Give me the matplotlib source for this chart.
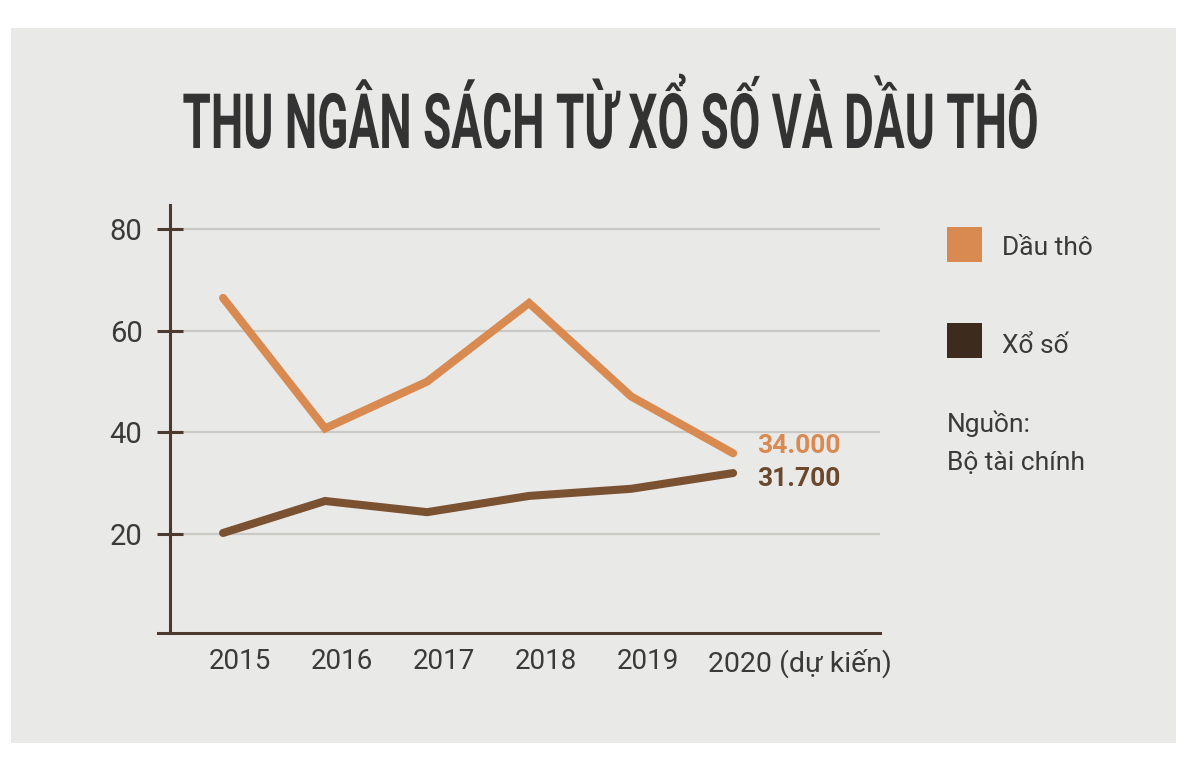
import matplotlib
matplotlib.use('Agg')
import matplotlib.pyplot as plt
from matplotlib import patheffects
from matplotlib.patches import Rectangle
from matplotlib.transforms import Affine2D, ScaledTranslation

# data (nghìn tỷ đồng)
years = ['2015', '2016', '2017', '2018', '2019', '2020 (dự kiến)']
dau_tho = [66.5, 40.8, 50.0, 65.5, 47.1, 35.9]
xo_so = [20.2, 26.5, 24.3, 27.5, 28.9, 32.0]
y_ticks = [20, 40, 60, 80]
end_labels = ['34.000', '31.700']
legend_names = ['Dầu thô', 'Xổ số']
source_lines = ['Nguồn:', 'Bộ tài chính']
title = 'THU NGÂN SÁCH TỪ XỔ SỐ VÀ DẦU THÔ'

ORANGE = '#d98a50'
BROWN = '#7a5232'
DARK = '#3d2b1e'
AXIS = '#4b3a2d'
TEXT = '#3a3a3a'
GRID = '#cbc9c3'
PANEL = '#e9e9e8'


class Stretch(patheffects.AbstractPathEffect):
    """Rescale glyphs around a fixed x (and around the baseline) for a condensed look."""

    def __init__(self, sx=1.0, sy=1.0, cx=0.0):
        super().__init__()
        self.sx = sx
        self.sy = sy
        self.cx = cx

    def draw_path(self, renderer, gc, tpath, affine, rgbFace=None):
        m = affine.get_matrix().copy()
        m[0, 0] *= self.sx
        m[0, 1] *= self.sx
        m[0, 2] = self.sx * (m[0, 2] - self.cx) + self.cx
        m[1, 0] *= self.sy
        m[1, 1] *= self.sy
        renderer.draw_path(gc, tpath, Affine2D(m), rgbFace)


plt.rcParams['font.family'] = ['Roboto', 'DejaVu Sans']

W, H = 1200, 762
fig = plt.figure(figsize=(12, 7.62), dpi=100, facecolor='white')

# grey card behind everything
fig.add_artist(Rectangle((11 / W, 1 - 743 / H), 1165 / W, 715 / H,
                         transform=fig.transFigure, facecolor=PANEL,
                         edgecolor='none', zorder=0))

ax = fig.add_axes([170 / W, 1 - 633 / H, 710 / W, 428 / H])
ax.set_facecolor('none')

x = list(range(len(years)))
ax.plot(x, dau_tho, color=ORANGE, lw=5.8, solid_capstyle='round',
        solid_joinstyle='miter', zorder=3)
ax.plot(x, xo_so, color=BROWN, lw=5.8, solid_capstyle='round',
        solid_joinstyle='miter', zorder=3)

ax.set_xlim(-0.52, 6.44)
ax.set_ylim(0.5, 84.8)

ax.set_yticks(y_ticks)
ax.grid(axis='y', color=GRID, lw=1.6)
ax.set_axisbelow(True)

for s in ['top', 'right']:
    ax.spines[s].set_visible(False)
for s in ['left', 'bottom']:
    ax.spines[s].set_color(AXIS)
    ax.spines[s].set_linewidth(2.2)
ax.spines['bottom'].set_bounds(-0.64, 6.44)

ax.tick_params(axis='y', direction='inout', length=18.7, width=2.2,
               color=AXIS, labelsize=21, labelcolor=TEXT, pad=10.5)
ax.set_xticks(x)
ax.set_xticklabels(years)
ax.tick_params(axis='x', length=0, labelsize=20, labelcolor=TEXT, pad=11)
for i, lab in enumerate(ax.get_xticklabels()):
    if i == len(years) - 1:
        lab.set_horizontalalignment('left')
        lab.set_fontsize(20.5)
        dx = -0.25
    else:
        dx = 0.17
    lab.set_transform(lab.get_transform() + ScaledTranslation(dx, 0, fig.dpi_scale_trans))

# end-of-line value labels
ax.annotate(end_labels[0], xy=(x[-1], dau_tho[-1]), xytext=(17, 0.5),
            textcoords='offset points', ha='left', va='baseline',
            fontsize=19, weight='semibold', color=ORANGE)
ax.annotate(end_labels[1], xy=(x[-1], xo_so[-1]), xytext=(17, -9.5),
            textcoords='offset points', ha='left', va='baseline',
            fontsize=19, weight='semibold', color='#6b472c')

# legend
for (top, name, col, base) in [(227, legend_names[0], ORANGE, 255),
                               (323, legend_names[1], DARK, 353)]:
    fig.add_artist(Rectangle((947 / W, 1 - (top + 35) / H), 35 / W, 35 / H,
                             transform=fig.transFigure, facecolor=col,
                             edgecolor='none'))
    fig.text(1002 / W, 1 - base / H, name, ha='left', va='baseline',
             fontsize=19, color=TEXT)

fig.text(947 / W, 1 - 432 / H, source_lines[0], ha='left', va='baseline',
         fontsize=19, color=TEXT)
fig.text(947 / W, 1 - 470 / H, source_lines[1], ha='left', va='baseline',
         fontsize=19, color=TEXT)

# title, centred, then condensed to the reference width / cap height
title_size = 44
t = fig.text(611 / W, 1 - 148 / H, title, ha='center', va='baseline',
             fontsize=title_size, weight='bold', color='#333333')
fig.canvas.draw()
t.set_path_effects([Stretch(857 / t.get_window_extent().width, 55 / title_size, 611)])

fig.savefig('out.png', dpi=100, facecolor='white')
plt.close(fig)
